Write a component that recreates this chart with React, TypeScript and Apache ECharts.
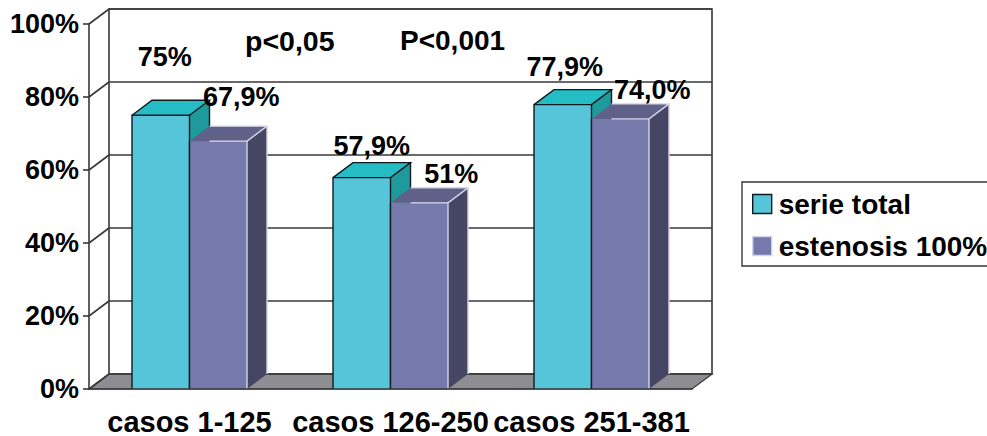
import React, { useEffect, useRef } from "react";
import * as echarts from "echarts";

const categories = ["casos 1-125", "casos 126-250", "casos 251-381"];
const serieTotal = [75, 57.9, 77.9];
const estenosis = [67.9, 51, 74];
const serieTotalLabels = ["75%", "57,9%", "77,9%"];
const estenosisLabels = ["67,9%", "51%", "74,0%"];
const yTicks = [0, 20, 40, 60, 80, 100];
const pValues = ["p<0,05", "P<0,001"];

// Oblique projection of the depth axis, in pixels.
const DEPTH_X = 20;
const DEPTH_Y = -15;
const BAR_SHARE = 115 / 201;
const FONT = "'Liberation Sans', Arial, sans-serif";
const LINE = "#383838";
const DARK_EDGE = "#0E1A1E";

const CYAN = { front: "#56C5DA", top: "#23BDC3", side: "#1F9A9C", edge: DARK_EDGE };
const PURPLE = { front: "#7579AB", top: "#5F6188", side: "#454663", edge: "#D4D5E6" };

// Hand placed label offsets from the bar's top front-centre, as on a slide.
const totalLabelOffsets = [[4, -58], [10, -32], [2, -38]];
const estenosisLabelOffsets = [[23, -44], [32, -29], [32, -29]];

function wallItem(params: any) {
  const { x, y, width, height } = params.coordSys;
  const bottom = y + height;
  const right = x + width;
  return {
    type: "group",
    children: [
      {
        type: "rect",
        shape: { x: x + DEPTH_X, y: y + DEPTH_Y, width, height },
        style: { fill: "#fff", stroke: LINE, lineWidth: 1.6 },
      },
      {
        type: "polygon",
        shape: {
          points: [
            [x, bottom],
            [right, bottom],
            [right + DEPTH_X, bottom + DEPTH_Y],
            [x + DEPTH_X, bottom + DEPTH_Y],
          ],
        },
        style: { fill: "#8E8E92", stroke: LINE, lineWidth: 1.2 },
      },
    ],
  };
}

function gridItem(params: any, api: any) {
  const { x, width } = params.coordSys;
  const y = api.coord([0, api.value(0)])[1];
  const line = { stroke: LINE, lineWidth: 1.6, fill: "none" };
  return {
    type: "group",
    children: [
      { type: "line", shape: { x1: x, y1: y, x2: x + DEPTH_X, y2: y + DEPTH_Y }, style: line },
      {
        type: "line",
        shape: { x1: x + DEPTH_X, y1: y + DEPTH_Y, x2: x + DEPTH_X + width, y2: y + DEPTH_Y },
        style: line,
      },
    ],
  };
}

// Draws one 3D box: right side, top and front faces, then its outline.
// The box on the right of a pair shares its left edge with its neighbour, so
// that edge stays dark, and its light outline skips the hidden slanted edge.
function barItem(colors: typeof CYAN, seriesIndex: number) {
  return (_params: any, api: any) => {
    const cat = api.value(0);
    const [cx, top] = api.coord([cat, api.value(1)]);
    const base = api.coord([cat, 0])[1];
    const w = (api.size([1, 0])[0] * BAR_SHARE) / 2;
    const l = cx + (seriesIndex === 0 ? -w : 0);
    const r = l + w;
    const backTop = top + DEPTH_Y;
    const edge = (points: number[][], stroke: string) => ({
      type: "polyline",
      shape: { points },
      style: { stroke, lineWidth: 1.4, fill: "none" },
    });
    const outline =
      seriesIndex === 0
        ? [
            edge([[l, base], [l, top], [r, top], [r, base]], colors.edge),
            edge([[l, top], [l + DEPTH_X, backTop], [r + DEPTH_X, backTop], [r, top]], colors.edge),
            edge([[r + DEPTH_X, backTop], [r + DEPTH_X, base + DEPTH_Y]], colors.edge),
          ]
        : [
            edge([[l + DEPTH_X, backTop], [r + DEPTH_X, backTop], [r, top], [r, base]], colors.edge),
            edge([[r + DEPTH_X, backTop], [r + DEPTH_X, base + DEPTH_Y]], colors.edge),
            edge([[l + DEPTH_X, top], [r, top]], colors.edge),
            edge([[l, top], [l, base]], DARK_EDGE),
          ];
    return {
      type: "group",
      children: [
        {
          type: "polygon",
          shape: {
            points: [
              [r, top],
              [r + DEPTH_X, backTop],
              [r + DEPTH_X, base + DEPTH_Y],
              [r, base],
            ],
          },
          style: { fill: colors.side },
        },
        {
          type: "polygon",
          shape: {
            points: [
              [l, top],
              [l + DEPTH_X, backTop],
              [r + DEPTH_X, backTop],
              [r, top],
            ],
          },
          style: { fill: colors.top },
        },
        {
          type: "rect",
          shape: { x: l, y: top, width: w, height: base - top },
          style: { fill: colors.front },
        },
        ...outline,
      ],
    };
  };
}

function valueLabel(texts: string[], offsets: number[][], seriesIndex: number) {
  return (_params: any, api: any) => {
    const cat = api.value(0);
    const [cx, top] = api.coord([cat, api.value(1)]);
    const w = (api.size([1, 0])[0] * BAR_SHARE) / 2;
    const x = cx + (seriesIndex === 0 ? -w / 2 : w / 2);
    return {
      type: "text",
      x: x + offsets[cat][0],
      y: top + offsets[cat][1],
      style: {
        text: texts[cat],
        fill: "#000",
        font: `bold 27px ${FONT}`,
        align: "center",
        verticalAlign: "middle",
      },
    };
  };
}

export default function App() {
  const ref = useRef<HTMLDivElement>(null);

  useEffect(() => {
    const chart = echarts.init(ref.current!, undefined, { renderer: "svg" });
    const byCategory = (values: number[]) => values.map((v, i) => [i, v]);
    chart.setOption({
      animation: false,
      backgroundColor: "#fff",
      grid: { left: 89, right: 295, top: 24, bottom: 47 },
      xAxis: {
        type: "category",
        data: categories,
        z: 6,
        axisLine: { lineStyle: { color: LINE, width: 1.6 } },
        axisTick: { length: 7, lineStyle: { color: LINE, width: 1.6 } },
        axisLabel: {
          color: "#000",
          fontFamily: FONT,
          fontWeight: "bold",
          fontSize: 29,
          margin: 18,
          interval: 0,
        },
      },
      yAxis: {
        type: "value",
        min: 0,
        max: 100,
        interval: 20,
        axisLine: { show: true, lineStyle: { color: LINE, width: 1.6 } },
        axisTick: { show: true, length: 6, lineStyle: { color: LINE, width: 1.6 } },
        splitLine: { show: false },
        axisLabel: {
          color: "#000",
          fontFamily: FONT,
          fontWeight: "bold",
          fontSize: 27,
          margin: 10,
          formatter: "{value}%",
        },
      },
      legend: {
        left: 742,
        top: 182,
        orient: "vertical",
        padding: [8, 12, 6, 10],
        itemWidth: 19,
        itemHeight: 19,
        itemGap: 14,
        backgroundColor: "#fff",
        borderColor: LINE,
        borderWidth: 1.4,
        selectedMode: false,
        textStyle: {
          color: "#000",
          fontFamily: FONT,
          fontWeight: "bold",
          fontSize: 28,
          padding: [0, 0, 0, 2],
        },
        data: [
          { name: "serie total", icon: "rect", itemStyle: { color: CYAN.front, borderColor: CYAN.edge, borderWidth: 1.4 } },
          { name: "estenosis 100%", icon: "rect", itemStyle: { color: PURPLE.front, borderColor: PURPLE.edge, borderWidth: 1.4 } },
        ],
      },
      series: [
        { type: "custom", name: "walls", z: 1, silent: true, data: [[0]], renderItem: wallItem },
        {
          type: "custom",
          name: "grid",
          z: 2,
          silent: true,
          data: yTicks.map((t) => [t]),
          encode: { y: 0 },
          renderItem: gridItem,
        },
        {
          type: "custom",
          name: "serie total",
          z: 3,
          itemStyle: { color: CYAN.front },
          data: byCategory(serieTotal),
          encode: { x: 0, y: 1 },
          renderItem: barItem(CYAN, 0),
        },
        {
          type: "custom",
          name: "estenosis 100%",
          z: 4,
          itemStyle: { color: PURPLE.front },
          data: byCategory(estenosis),
          encode: { x: 0, y: 1 },
          renderItem: barItem(PURPLE, 1),
        },
        {
          type: "custom",
          name: "serie total values",
          z: 7,
          silent: true,
          data: byCategory(serieTotal),
          encode: { x: 0, y: 1 },
          renderItem: valueLabel(serieTotalLabels, totalLabelOffsets, 0),
        },
        {
          type: "custom",
          name: "estenosis values",
          z: 7,
          silent: true,
          data: byCategory(estenosis),
          encode: { x: 0, y: 1 },
          renderItem: valueLabel(estenosisLabels, estenosisLabelOffsets, 1),
        },
      ],
      graphic: [
        {
          type: "text",
          z: 10,
          x: 245,
          y: 41,
          style: { text: pValues[0], fill: "#000", font: `bold 28.5px ${FONT}`, verticalAlign: "middle" },
        },
        {
          type: "text",
          z: 10,
          x: 400,
          y: 40,
          style: { text: pValues[1], fill: "#000", font: `bold 28px ${FONT}`, verticalAlign: "middle" },
        },
      ],
    });
    return () => chart.dispose();
  }, []);

  return (
    <div
      ref={ref}
      style={{ position: "absolute", left: 0, top: 0, width: 987, height: 436 }}
    />
  );
}
